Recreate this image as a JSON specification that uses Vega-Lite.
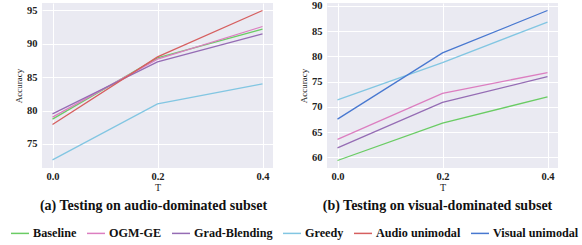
{
  "$schema": "https://vega.github.io/schema/vega-lite/v6.json",
  "padding": {"left": 10, "top": 0, "right": 0, "bottom": 0},
  "background": "white",
  "spacing": 26,
  "datasets": {
    "audio": [
      {"T": 0.0, "method": "Baseline", "acc": 78.7},
      {"T": 0.2, "method": "Baseline", "acc": 87.9},
      {"T": 0.4, "method": "Baseline", "acc": 92.2},
      {"T": 0.0, "method": "OGM-GE", "acc": 79.0},
      {"T": 0.2, "method": "OGM-GE", "acc": 87.7},
      {"T": 0.4, "method": "OGM-GE", "acc": 92.6},
      {"T": 0.0, "method": "Grad-Blending", "acc": 79.5},
      {"T": 0.2, "method": "Grad-Blending", "acc": 87.3},
      {"T": 0.4, "method": "Grad-Blending", "acc": 91.5},
      {"T": 0.0, "method": "Greedy", "acc": 72.6},
      {"T": 0.2, "method": "Greedy", "acc": 81.0},
      {"T": 0.4, "method": "Greedy", "acc": 84.0},
      {"T": 0.0, "method": "Audio unimodal", "acc": 77.9},
      {"T": 0.2, "method": "Audio unimodal", "acc": 88.05},
      {"T": 0.4, "method": "Audio unimodal", "acc": 95.0}
    ],
    "visual": [
      {"T": 0.0, "method": "Baseline", "acc": 59.4},
      {"T": 0.2, "method": "Baseline", "acc": 66.8},
      {"T": 0.4, "method": "Baseline", "acc": 72.0},
      {"T": 0.0, "method": "OGM-GE", "acc": 63.6},
      {"T": 0.2, "method": "OGM-GE", "acc": 72.7},
      {"T": 0.4, "method": "OGM-GE", "acc": 76.8},
      {"T": 0.0, "method": "Grad-Blending", "acc": 61.9},
      {"T": 0.2, "method": "Grad-Blending", "acc": 70.9},
      {"T": 0.4, "method": "Grad-Blending", "acc": 76.0},
      {"T": 0.0, "method": "Greedy", "acc": 71.4},
      {"T": 0.2, "method": "Greedy", "acc": 78.8},
      {"T": 0.4, "method": "Greedy", "acc": 86.8},
      {"T": 0.0, "method": "Visual unimodal", "acc": 67.6},
      {"T": 0.2, "method": "Visual unimodal", "acc": 80.7},
      {"T": 0.4, "method": "Visual unimodal", "acc": 89.1}
    ]
  },
  "hconcat": [
    {
      "width": 231,
      "height": 165,
      "data": {"name": "audio"},
      "title": {"text": "(a) Testing on audio-dominated subset", "orient": "bottom", "dx": -4},
      "mark": {"type": "line", "strokeWidth": 1.3},
      "encoding": {
        "x": {"field": "T", "type": "quantitative", "scale": {"domain": [-0.02, 0.42], "nice": false, "zero": false},
              "axis": {"values": [0, 0.2, 0.4], "format": ".1f", "title": "T"}},
        "y": {"field": "acc", "type": "quantitative", "scale": {"domain": [71.375, 96.125], "nice": false, "zero": false},
              "axis": {"values": [75, 80, 85, 90, 95], "title": "Accuracy"}},
        "color": {"field": "method", "type": "nominal",
                  "scale": {"domain": ["Baseline", "OGM-GE", "Grad-Blending", "Greedy", "Audio unimodal", "Visual unimodal"],
                            "range": ["#6ACC64", "#DC7EC0", "#956CB4", "#82C6E2", "#D65F5F", "#4878D0"]},
                  "legend": {"title": null, "orient": "none", "legendX": -32, "legendY": 220}}
      }
    },
    {
      "width": 231,
      "height": 165,
      "data": {"name": "visual"},
      "title": {"text": "(b) Testing on visual-dominated subset", "orient": "bottom", "dx": -5},
      "mark": {"type": "line", "strokeWidth": 1.3},
      "encoding": {
        "x": {"field": "T", "type": "quantitative", "scale": {"domain": [-0.02, 0.42], "nice": false, "zero": false},
              "axis": {"values": [0, 0.2, 0.4], "format": ".1f", "title": "T"}},
        "y": {"field": "acc", "type": "quantitative", "scale": {"domain": [57.915, 90.585], "nice": false, "zero": false},
              "axis": {"values": [60, 65, 70, 75, 80, 85, 90], "title": "Accuracy"}},
        "color": {"field": "method", "type": "nominal",
                  "scale": {"domain": ["Baseline", "OGM-GE", "Grad-Blending", "Greedy", "Audio unimodal", "Visual unimodal"],
                            "range": ["#6ACC64", "#DC7EC0", "#956CB4", "#82C6E2", "#D65F5F", "#4878D0"]},
                  "legend": {"title": null, "orient": "none", "legendX": -32, "legendY": 220}}
      }
    }
  ],
  "config": {
    "font": "Liberation Serif",
    "view": {"fill": "#EAEAF2", "stroke": null},
    "axis": {
      "domain": false,
      "ticks": false,
      "grid": true,
      "gridColor": "white",
      "gridWidth": 1,
      "labelFont": "Liberation Serif",
      "labelFontWeight": "bold",
      "labelFontSize": 10.5,
      "labelColor": "#222",
      "labelPadding": 3,
      "titleFont": "Liberation Serif",
      "titleFontWeight": "normal",
      "titleColor": "#222",
      "titleFontSize": 10,
      "titlePadding": 1
    },
    "axisY": {"titleFontSize": 9, "labelPadding": 5, "titlePadding": 3},
    "title": {
      "font": "Times New Roman",
      "fontSize": 14,
      "fontWeight": "bold",
      "color": "#111",
      "anchor": "middle",
      "offset": 6
    },
    "legend": {
      "direction": "horizontal",
      "symbolType": "stroke",
      "symbolSize": 324,
      "symbolStrokeWidth": 1.5,
      "labelFont": "Times New Roman",
      "labelFontWeight": "bold",
      "labelFontSize": 12.2,
      "labelColor": "#111",
      "labelLimit": 200,
      "columnPadding": 7,
      "labelOffset": 3
    }
  }
}
